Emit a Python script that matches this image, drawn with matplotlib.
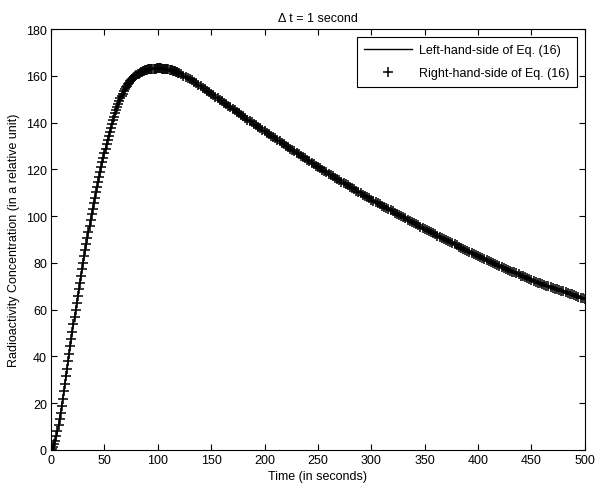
import matplotlib
matplotlib.use("Agg")
import matplotlib.pyplot as plt

plt.rcParams['font.family'] = ['Liberation Sans', 'DejaVu Sans']
plt.rcParams['font.size'] = 9

# sample times (s): every second up to 120, then every 2 s
time_s = list(range(0, 121)) + list(range(122, 501, 2))

# concentration (relative units)
conc_rise = [
    0.0, 0.4, 1.2, 2.4, 3.9, 5.8, 8.0, 10.5, 13.2, 16.0,
    19.0, 22.0, 25.2, 28.4, 31.6, 34.8, 38.0, 41.2, 44.4, 47.5,
    50.6, 53.7, 56.8, 59.8, 62.8, 65.8, 68.7, 71.6, 74.5, 77.3,
    80.1, 82.8, 85.5, 88.2, 90.8, 93.4, 95.9, 98.4, 100.8, 103.2,
    105.5, 107.8, 110.1, 112.3, 114.5, 116.7, 118.8, 120.9, 123.0, 125.0,
    127.0, 128.9, 130.8, 132.6, 134.4, 136.1, 137.8, 139.4, 141.0, 142.5,
    144.0, 145.4, 146.7, 148.0, 149.2, 150.3, 151.4, 152.4, 153.3, 154.2,
    155.0, 155.7, 156.4, 157.0, 157.6, 158.1, 158.6, 159.1, 159.5, 159.9,
    160.3, 160.6, 160.9, 161.2, 161.5, 161.7, 161.9, 162.1, 162.3, 162.5,
    162.6, 162.7, 162.8, 162.9, 163.0, 163.0, 163.1, 163.1, 163.1, 163.2,
    163.2, 163.2, 163.2, 163.2, 163.1, 163.1, 163.0, 163.0, 162.9, 162.8,
    162.7, 162.6, 162.5, 162.3, 162.2, 162.0, 161.9, 161.7, 161.5, 161.3,
    161.1,
]
conc_decay = [
    160.6, 160.1, 159.6, 159.1, 158.6, 158.0, 157.4, 156.8, 156.1, 155.5,
    154.9, 154.2, 153.6, 152.9, 152.3, 151.7, 151.0, 150.4, 149.7, 149.1,
    148.4, 147.8, 147.1, 146.5, 145.8, 145.2, 144.5, 143.9, 143.3, 142.6,
    142.0, 141.3, 140.7, 140.1, 139.4, 138.8, 138.1, 137.5, 136.8, 136.2,
    135.6, 135.0, 134.4, 133.8, 133.2, 132.6, 132.0, 131.3, 130.7, 130.1,
    129.5, 128.9, 128.3, 127.7, 127.1, 126.5, 125.9, 125.3, 124.7, 124.1,
    123.5, 122.8, 122.2, 121.6, 121.0, 120.4, 119.9, 119.3, 118.8, 118.2,
    117.6, 117.1, 116.5, 116.0, 115.4, 114.8, 114.3, 113.7, 113.2, 112.6,
    112.0, 111.5, 110.9, 110.4, 109.8, 109.2, 108.7, 108.1, 107.6, 107.0,
    106.5, 106.0, 105.5, 105.0, 104.5, 104.0, 103.5, 103.0, 102.5, 102.0,
    101.5, 101.0, 100.5, 100.0, 99.5, 99.0, 98.5, 98.0, 97.5, 97.0,
    96.5, 96.0, 95.5, 95.0, 94.5, 94.0, 93.6, 93.1, 92.6, 92.2,
    91.7, 91.2, 90.8, 90.3, 89.8, 89.3, 88.9, 88.4, 87.9, 87.5,
    87.0, 86.5, 86.1, 85.6, 85.1, 84.7, 84.2, 83.7, 83.3, 82.8,
    82.4, 82.0, 81.6, 81.2, 80.8, 80.3, 79.9, 79.5, 79.1, 78.7,
    78.3, 77.9, 77.5, 77.1, 76.7, 76.3, 75.9, 75.5, 75.1, 74.6,
    74.2, 73.8, 73.4, 73.0, 72.6, 72.3, 71.9, 71.6, 71.3, 71.0,
    70.6, 70.3, 70.0, 69.7, 69.4, 69.0, 68.7, 68.4, 68.1, 67.8,
    67.4, 67.1, 66.8, 66.5, 66.1, 65.8, 65.5, 65.2, 64.8, 64.5,
]
lhs = conc_rise + conc_decay
rhs = conc_rise + conc_decay  # both sides coincide in the figure

fig = plt.figure(figsize=(6.01, 5.02), dpi=100)
ax = fig.add_axes([0.085, 0.1016, 0.888, 0.8386])

ax.plot(time_s, lhs, color="black", linewidth=1.0, label="Left-hand-side of Eq. (16)")
ax.plot(time_s, rhs, linestyle="none", marker="+", markersize=7, markeredgewidth=1.1,
        color="black", label="Right-hand-side of Eq. (16)")

ax.set_xlim(0, 500)
ax.set_ylim(0, 180)
ax.set_xticks(range(0, 501, 50))
ax.set_yticks(range(0, 181, 20))
ax.tick_params(direction="in", top=True, right=True, length=4, width=0.8, pad=3)
for s in ax.spines.values():
    s.set_linewidth(0.8)

ax.set_title("\u0394 t = 1 second", fontsize=9, pad=6)
ax.set_xlabel("Time (in seconds)", labelpad=3)
ax.set_ylabel("Radioactivity Concentration (in a relative unit)", labelpad=4)

leg = ax.legend(loc="upper right", fancybox=False, framealpha=1, edgecolor="black",
                borderaxespad=0.6, handlelength=3.8, handletextpad=0.6,
                borderpad=0.6, labelspacing=0.9)
leg.get_frame().set_linewidth(0.8)

fig.savefig("out.png", dpi=100)
